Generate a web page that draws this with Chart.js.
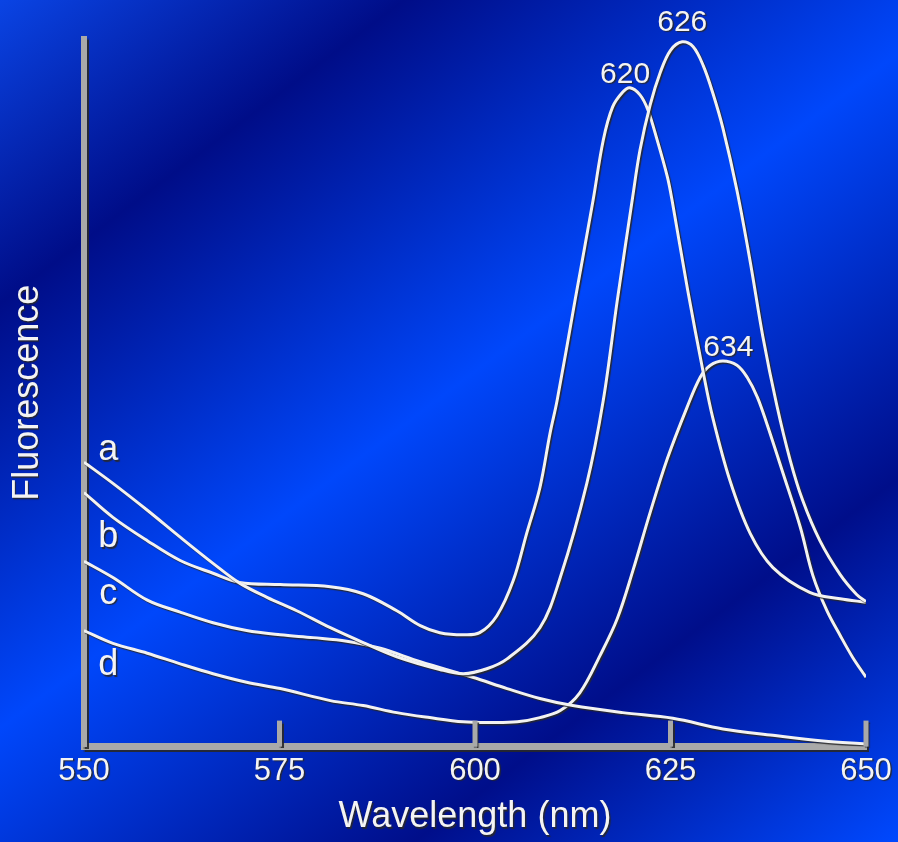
<!DOCTYPE html>
<html>
<head>
<meta charset="utf-8">
<script src="https://cdn.jsdelivr.net/npm/chart.js@4/dist/chart.umd.min.js"></script>
<style>
html, body { margin: 0; padding: 0; background: #0030c8; }
#wrap { width: 898px; height: 842px; }
</style>
</head>
<body>
<div id="wrap"><canvas id="fluoChart"></canvas></div>
<script>
// wavelength (nm) / fluorescence (arbitrary units, 0-100)
const aX = [550, 553.7, 558.1, 562.3, 566.5, 569.9, 573.4, 577.2, 581.5, 585.7, 590.0, 595.5, 598.5, 601.5, 604.1, 608.3, 610.9, 614.3, 616.4, 618.2, 620.1, 621.1, 622.4, 623.7, 625.0, 626.5, 627.9, 629.2, 630.4, 631.7, 633.5, 635.2, 636.8, 638.6, 640.3, 641.9, 644.1, 646.7, 648.8, 650];
const aY = [40.2, 37.2, 33.4, 29.6, 25.9, 23.1, 21.1, 19.2, 16.8, 14.7, 12.7, 10.9, 10.3, 11.0, 12.4, 16.8, 23.9, 37.2, 48.9, 63.1, 77.2, 84.3, 90.7, 95.3, 98.4, 99.6, 98.9, 96.2, 92.4, 87.4, 78.6, 68.5, 58.0, 48.2, 40.5, 34.8, 29.1, 24.3, 21.5, 20.5];

const bX = [550, 553.7, 558.1, 562.3, 566.5, 569.9, 575.1, 581.5, 585.7, 590.0, 593.0, 595.5, 598.5, 600.6, 602.8, 604.9, 606.6, 608.3, 609.6, 610.5, 612.8, 615.1, 616.4, 617.6, 618.9, 619.8, 621.1, 622.1, 623.3, 624.6, 625.2, 627.2, 629.2, 630.4, 632.6, 635.2, 638.1, 642.8, 646.7, 650];
const bY = [35.9, 32.4, 29.1, 26.3, 24.5, 23.2, 22.9, 22.6, 21.6, 19.2, 17.1, 16.1, 15.8, 16.1, 18.5, 23.5, 30.1, 36.6, 44.3, 48.9, 63.1, 77.2, 85.7, 90.4, 92.5, 93.1, 92.1, 90.0, 85.7, 80.5, 77.2, 64.5, 52.8, 46.5, 37.6, 30.1, 25.3, 21.8, 20.9, 20.4];

const cX = [550, 553.7, 558.1, 562.3, 566.5, 570.8, 575.1, 579.3, 583.6, 587.9, 593.0, 599.7, 604.1, 608.3, 612.5, 618.9, 625.3, 631.7, 638.1, 644.5, 650];
const cY = [26.2, 23.9, 20.7, 19.0, 17.5, 16.4, 15.8, 15.4, 14.9, 13.9, 12.0, 9.8, 8.2, 6.8, 5.8, 4.8, 4.0, 2.5, 1.6, 0.8, 0.4];

const dX = [550, 553.7, 558.1, 562.3, 566.5, 570.8, 575.1, 581.5, 585.7, 590.0, 594.2, 598.5, 601.9, 605.4, 608.3, 610.9, 613.4, 616.0, 618.2, 620.2, 622.4, 624.6, 627.1, 628.8, 630.1, 631.7, 633.5, 634.8, 636.1, 637.3, 639.4, 641.6, 643.2, 645.0, 646.7, 648.3, 650];
const dY = [16.4, 14.6, 13.2, 11.7, 10.3, 9.1, 8.2, 6.5, 5.8, 4.8, 4.1, 3.5, 3.4, 3.5, 4.1, 5.1, 7.6, 12.9, 18.1, 24.9, 33.1, 40.7, 47.9, 52.2, 53.9, 54.5, 53.9, 52.2, 49.4, 45.7, 38.6, 31.0, 24.2, 19.2, 15.7, 12.6, 9.8];

const curveNames = ["a", "b", "c", "d"];
const curveLabelX = 553.1;
const curveLabelY = [41.9, 29.6, 21.6, 11.5];

const peakLabels = ["620", "626", "634"];
const peakLabelX = [619.2, 626.5, 632.4];
const peakLabelY = [95.0, 102.3, 56.4];

const xMin = 550, xMax = 650, xStep = 25;

const FONT = "'Liberation Sans', Arial, Helvetica, sans-serif";
const LINE = "#f2f2f2";
const AXIS = "#a9a9a9";

function toPoints(xs, ys) {
    return xs.map((x, i) => ({ x: x, y: ys[i] }));
}

function setShadow(ctx) {
    ctx.shadowColor = "rgba(40, 40, 40, 0.9)";
    ctx.shadowBlur = 1;
    ctx.shadowOffsetX = 1.5;
    ctx.shadowOffsetY = 1.5;
}

const backdrop = {
    id: "backdrop",
    beforeDraw(chart) {
        const ctx = chart.ctx;
        const g = ctx.createLinearGradient(0, 0, 728, 970);
        g.addColorStop(0, "#0a44e4");
        g.addColorStop(0.2, "#000d88");
        g.addColorStop(0.48, "#0047fb");
        g.addColorStop(0.76, "#000e8a");
        g.addColorStop(1, "#0049ff");
        ctx.save();
        ctx.fillStyle = g;
        ctx.fillRect(0, 0, chart.width, chart.height);
        ctx.restore();
        setShadow(ctx);
    },
    afterDatasetsDraw(chart) {
        const ctx = chart.ctx;
        const xs = chart.scales.x, ys = chart.scales.y;
        const bottom = chart.chartArea.bottom;
        ctx.save();
        // tick marks stand up from the axis
        ctx.strokeStyle = AXIS;
        ctx.lineWidth = 5;
        xs.ticks.forEach((t, i) => {
            if (i === 0) return;
            const px = xs.getPixelForValue(t.value);
            ctx.beginPath();
            ctx.moveTo(px, bottom);
            ctx.lineTo(px, bottom - 26);
            ctx.stroke();
        });
        ctx.fillStyle = "#f4f4f4";
        ctx.textAlign = "center";
        ctx.textBaseline = "middle";
        ctx.font = "36px " + FONT;
        curveNames.forEach((n, i) => {
            ctx.fillText(n, xs.getPixelForValue(curveLabelX), ys.getPixelForValue(curveLabelY[i]));
        });
        ctx.font = "30px " + FONT;
        peakLabels.forEach((p, i) => {
            ctx.fillText(p, xs.getPixelForValue(peakLabelX[i]), ys.getPixelForValue(peakLabelY[i]));
        });
        ctx.restore();
    },
    afterDraw(chart) {
        const ctx = chart.ctx;
        ctx.shadowColor = "rgba(0,0,0,0)";
        ctx.shadowBlur = 0;
        ctx.shadowOffsetX = 0;
        ctx.shadowOffsetY = 0;
    }
};

function curve(name, xs, ys) {
    return {
        label: name,
        data: toPoints(xs, ys),
        borderColor: LINE,
        borderWidth: 3,
        pointRadius: 0,
        fill: false,
        tension: 0.35
    };
}

const ctx = document.getElementById("fluoChart").getContext("2d");
new Chart(ctx, {
    type: "line",
    data: {
        datasets: [
            curve("a", aX, aY),
            curve("b", bX, bY),
            curve("c", cX, cY),
            curve("d", dX, dY)
        ]
    },
    options: {
        responsive: true,
        maintainAspectRatio: false,
        animation: false,
        layout: { padding: { left: 4, top: 39, right: 32, bottom: 0 } },
        scales: {
            x: {
                type: "linear",
                min: xMin,
                max: xMax,
                ticks: {
                    stepSize: xStep,
                    color: "#f4f4f4",
                    font: { family: FONT, size: 31 },
                    padding: 6,
                    maxRotation: 0
                },
                grid: { display: false, drawTicks: false },
                border: { display: true, color: AXIS, width: 7 },
                title: {
                    display: true,
                    text: "Wavelength (nm)",
                    color: "#f4f4f4",
                    font: { family: FONT, size: 36 },
                    padding: { top: 0, bottom: 3 }
                }
            },
            y: {
                min: 0,
                max: 100,
                ticks: { display: false },
                grid: { display: false, drawTicks: false },
                border: { display: true, color: AXIS, width: 6 },
                title: {
                    display: true,
                    text: "Fluorescence",
                    color: "#f4f4f4",
                    font: { family: FONT, size: 36 },
                    padding: { top: 2.4, bottom: 34.4 }
                }
            }
        },
        plugins: {
            legend: { display: false },
            tooltip: { enabled: false }
        }
    },
    plugins: [backdrop]
});
</script>
</body>
</html>
